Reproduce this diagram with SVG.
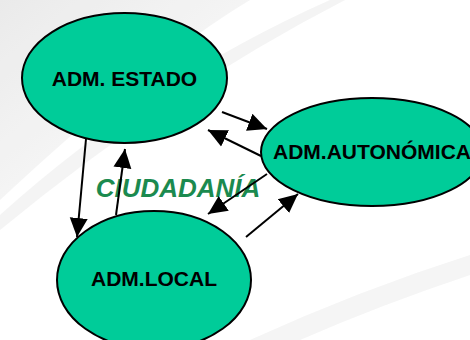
<svg xmlns="http://www.w3.org/2000/svg" width="470" height="340" viewBox="0 0 470 340">
  <style>
    .node { fill: #00CC99; stroke: #000; stroke-width: 2; }
    .label { font-family: "Liberation Sans", Arial, sans-serif; font-weight: bold; font-size: 21px; fill: #000; text-anchor: middle; }
    .conn { stroke: #000; stroke-width: 2; fill: none; marker-end: url(#arrow); }
    .center { font-family: "Liberation Sans", Arial, sans-serif; font-weight: bold; font-style: italic; font-size: 26px; fill: #1B8A4F; }
  </style>
  <defs>
    <marker id="arrow" markerUnits="userSpaceOnUse" markerWidth="20" markerHeight="20" viewBox="0 0 20 20" refX="19" refY="10" orient="auto">
      <path d="M0,1 L19,10 L0,19 Z" fill="#000"/>
    </marker>
    <linearGradient id="bg1" x1="0" y1="0" x2="1" y2="1">
      <stop offset="0" stop-color="#e6e6e6"/>
      <stop offset="1" stop-color="#ffffff"/>
    </linearGradient>
  </defs>
  <rect width="470" height="340" fill="#fff"/>
  <g id="background" opacity="0.8">
    <path d="M0,0 L250,0 Q150,60 0,200 Z" fill="url(#bg1)"/>
    <path d="M0,215 Q150,80 330,0 L345,0 Q170,90 0,230 Z" fill="#f2f2f2"/>
    <path d="M250,340 Q360,290 470,255 L470,275 Q380,305 300,340 Z" fill="#f3f3f3"/>
  </g>
  <text class="center" x="178" y="197" text-anchor="middle">CIUDADANÍA</text>
  <g id="connectors">
    <line class="conn" x1="222" y1="112" x2="267" y2="129"/>
    <line class="conn" x1="261" y1="156" x2="208" y2="130"/>
    <line class="conn" x1="267" y1="174" x2="208" y2="214"/>
    <line class="conn" x1="246" y1="237" x2="298" y2="194"/>
    <line class="conn" x1="86" y1="139" x2="77" y2="237"/>
    <line class="conn" x1="116" y1="215" x2="125" y2="149"/>
  </g>
  <g id="node-estado">
    <ellipse class="node" cx="124.5" cy="78" rx="102.5" ry="65"/>
    <text class="label" x="124.5" y="86">ADM. ESTADO</text>
  </g>
  <g id="node-autonomica">
    <ellipse class="node" cx="372" cy="152" rx="111" ry="54"/>
    <text class="label" x="372" y="159">ADM.AUTONÓMICA</text>
  </g>
  <g id="node-local">
    <ellipse class="node" cx="154" cy="280" rx="97" ry="69"/>
    <text class="label" x="154" y="286">ADM.LOCAL</text>
  </g>
</svg>
